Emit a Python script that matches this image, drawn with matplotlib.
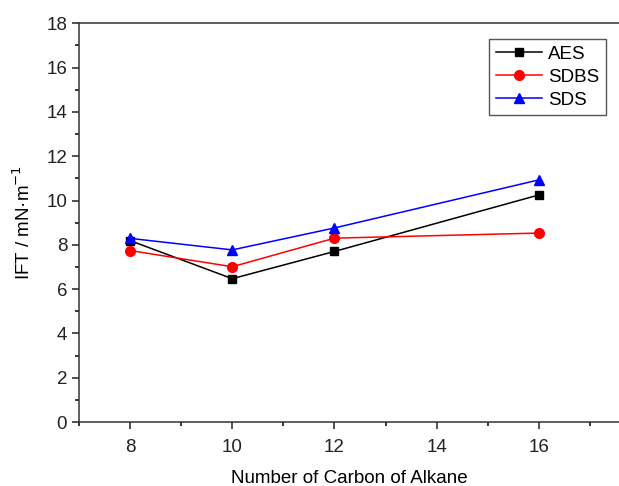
import matplotlib
matplotlib.use('Agg')
import matplotlib.pyplot as plt
from matplotlib.ticker import MultipleLocator

plt.rcParams['font.family'] = ['Liberation Sans', 'DejaVu Sans']

carbon = [8, 10, 12, 16]
aes = [8.19, 6.47, 7.70, 10.25]
sdbs = [7.74, 7.01, 8.30, 8.53]
sds = [8.29, 7.77, 8.76, 10.93]

fig = plt.figure(figsize=(6.19, 4.86), dpi=100)
ax = fig.add_axes([79 / 619, 64 / 486, 1 - 79 / 619, (422 - 23.3) / 486])

ax.plot(carbon, aes, color='black', marker='s', markersize=6, lw=1.1, label='AES')
ax.plot(carbon, sdbs, color='red', marker='o', markersize=7, lw=1.1, label='SDBS')
ax.plot(carbon, sds, color='blue', marker='^', markersize=7.5, lw=1.1, label='SDS')

ax.set_xlim(7, 17.57)
ax.set_ylim(0, 18)
ax.xaxis.set_major_locator(MultipleLocator(2))
ax.xaxis.set_minor_locator(MultipleLocator(1))
ax.yaxis.set_major_locator(MultipleLocator(2))
ax.yaxis.set_minor_locator(MultipleLocator(1))
ax.tick_params(which='major', direction='out', length=5, width=1.1, labelsize=13.5, colors='#222222')
ax.tick_params(which='minor', direction='out', length=3, width=1.1)
ax.tick_params(axis='x', pad=7)
ax.spines['right'].set_visible(False)
for s in ['left', 'bottom', 'top']:
    ax.spines[s].set_linewidth(1.1)
    ax.spines[s].set_color('#333333')

ax.set_xlabel('Number of Carbon of Alkane', fontsize=13.5, labelpad=10.5)
ax.set_ylabel('IFT / mN·m$^{-1}$', fontsize=13.5, labelpad=9)

leg = ax.legend(loc='upper left', bbox_to_anchor=((489 - 79) / 540, 1 - (39 - 23.3) / 399),
                fontsize=13.5, fancybox=False, edgecolor='#555555', framealpha=1,
                handlelength=2.5, borderpad=0.35, labelspacing=0.32, handletextpad=0.3,
                borderaxespad=0)
leg.get_frame().set_linewidth(1.0)

fig.savefig('out.png', dpi=100)
